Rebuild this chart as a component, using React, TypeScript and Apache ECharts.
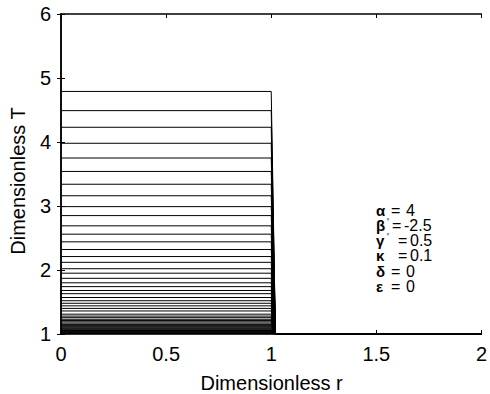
import React, { useEffect, useRef } from "react";
import * as echarts from "echarts";

// Temperature plateau levels (Dimensionless T) for each profile curve
const T_LEVELS: number[] = [
  4.79, 4.49, 4.23, 3.98, 3.75, 3.54, 3.34, 3.16, 2.99,
  2.85, 2.69, 2.56, 2.44, 2.32, 2.21, 2.12, 2.02, 1.95, 1.87,
  1.80, 1.74, 1.68, 1.63, 1.57, 1.52, 1.48, 1.44, 1.40, 1.36, 1.31,
  1.28, 1.255, 1.23, 1.21, 1.19, 1.17, 1.15, 1.135, 1.12, 1.105, 1.09,
  1.078, 1.066, 1.055, 1.045, 1.036, 1.028, 1.02, 1.013, 1.007, 1.003,
];
// r positions where each profile starts, ends its plateau, reaches ambient, ends
const R_START = 0;
const R_FRONT_START = 1.0;
const R_FRONT_END = 1.02;
const R_END = 2;
const T_AMBIENT = 1;

const X_TICKS = [0, 0.5, 1, 1.5, 2];
const Y_TICKS = [1, 2, 3, 4, 5, 6];

const PARAM_SYMBOLS = ["α", "β", "γ", "κ", "δ", "ε"];
const PARAM_PRIMES = [false, true, true, false, false, false];
const PARAM_VALUES = ["4", "-2.5", "0.5", "0.1", "0", "0"];

const FONT = "'Liberation Sans', Arial, Helvetica, sans-serif";

export default function App() {
  const ref = useRef<HTMLDivElement>(null);
  useEffect(() => {
    document.body.style.margin = "0";
    if (!ref.current) return;
    const chart = echarts.init(ref.current, null, { renderer: "svg" });

    const series = T_LEVELS.map((t) => ({
      type: "line" as const,
      data: [
        [R_START, t],
        [R_FRONT_START, t],
        [R_FRONT_END, T_AMBIENT],
        [R_END, T_AMBIENT],
      ],
      symbol: "none",
      silent: true,
      lineStyle: { color: "#000", width: 1 },
      xAxisIndex: 0,
      yAxisIndex: 0,
    }));

    // per-row layout of the parameter annotation (fragment widths, px)
    const symW = [15, 11, 11, 22, 15, 15];
    const primeW = [0, 5, 11, 0, 0, 0];
    const eqW = [15, 12, 12, 12, 15, 15];
    const LH = 15.3;
    const FS = 16;
    const rich: Record<string, any> = {};
    const lines = PARAM_SYMBOLS.map((s, i) => {
      const sk = `s${i}`;
      const ek = `e${i}`;
      const pk = `p${i}`;
      rich[sk] = { fontFamily: FONT, fontSize: 15, fontWeight: "bold", width: symW[i], lineHeight: LH, color: "#000" };
      rich[ek] = { fontFamily: FONT, fontSize: FS, width: eqW[i], lineHeight: LH, color: "#000" };
      let str = `{${sk}|${s}}`;
      if (PARAM_PRIMES[i]) {
        rich[pk] = { fontFamily: FONT, fontSize: 10, width: primeW[i], lineHeight: 13, verticalAlign: "top", color: "#000" };
        str += `{${pk}|'}`;
      }
      str += `{${ek}|=}{v|${PARAM_VALUES[i]}}`;
      return str;
    });
    rich.v = { fontFamily: FONT, fontSize: FS, lineHeight: LH, color: "#000" };

    const graphics: any[] = [
      {
        type: "text",
        x: 376,
        y: 210 - LH / 2,
        style: {
          text: lines.join("\n"),
          rich,
          fontFamily: FONT,
          fontSize: FS,
          lineHeight: LH,
          fill: "#000",
          align: "left",
          verticalAlign: "top",
        },
      },
      {
        type: "text",
        x: 18,
        y: 181,
        rotation: Math.PI / 2,
        style: {
          text: "Dimensionless T",
          fontFamily: FONT,
          fontSize: 20,
          fill: "#000",
          align: "center",
          verticalAlign: "middle",
        },
      },
      {
        type: "text",
        x: 271.6,
        y: 383,
        style: {
          text: "Dimensionless r",
          fontFamily: FONT,
          fontSize: 20,
          fill: "#000",
          align: "center",
          verticalAlign: "middle",
        },
      },
    ];

    const axisLine = { show: true, lineStyle: { color: "#000", width: 1.5 } };
    const tick = { show: true, inside: true, length: 4, lineStyle: { color: "#000", width: 1 } };

    chart.setOption({
      animation: false,
      grid: { left: 61, right: 8, top: 14, bottom: 60, containLabel: false },
      xAxis: [
        {
          type: "value",
          min: X_TICKS[0],
          max: X_TICKS[X_TICKS.length - 1],
          interval: X_TICKS[1] - X_TICKS[0],
          position: "bottom",
          axisLine,
          axisTick: tick,
          splitLine: { show: false },
          axisLabel: { color: "#000", fontFamily: FONT, fontSize: 20, margin: 10, showMaxLabel: true, hideOverlap: false },
        },
        {
          type: "value",
          min: X_TICKS[0],
          max: X_TICKS[X_TICKS.length - 1],
          interval: X_TICKS[1] - X_TICKS[0],
          position: "top",
          axisLine,
          axisTick: tick,
          splitLine: { show: false },
          axisLabel: { show: false },
        },
      ],
      yAxis: [
        {
          type: "value",
          min: Y_TICKS[0],
          max: Y_TICKS[Y_TICKS.length - 1],
          interval: 1,
          position: "left",
          axisLine,
          axisTick: tick,
          splitLine: { show: false },
          axisLabel: { color: "#000", fontFamily: FONT, fontSize: 20, margin: 10 },
        },
        {
          type: "value",
          min: Y_TICKS[0],
          max: Y_TICKS[Y_TICKS.length - 1],
          interval: 1,
          position: "right",
          axisLine,
          axisTick: tick,
          splitLine: { show: false },
          axisLabel: { show: false },
        },
      ],
      series,
      graphic: graphics,
    });
    return () => chart.dispose();
  }, []);
  return <div ref={ref} style={{ width: 490, height: 394 }} />;
}
